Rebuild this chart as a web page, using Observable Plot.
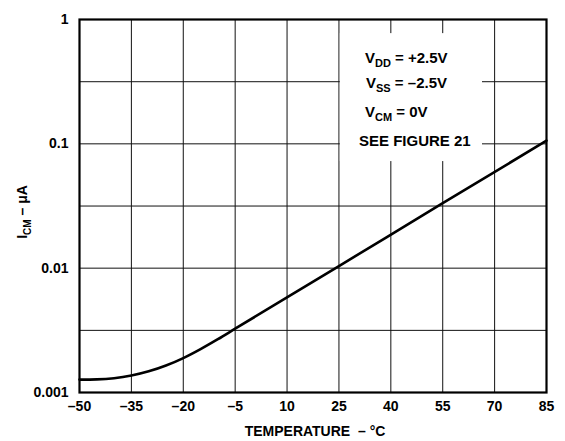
<!DOCTYPE html>
<html>
<head>
<meta charset="utf-8">
<script src="https://cdn.jsdelivr.net/npm/d3@7"></script>
<script src="https://cdn.jsdelivr.net/npm/@observablehq/plot@0.6"></script>
<style>
  html, body { margin: 0; padding: 0; background: #fff; }
  svg text { font-family: "Liberation Sans", Arial, Helvetica, sans-serif; font-weight: bold; }
</style>
</head>
<body>
<div id="chart"></div>
<script>
// Data
const temperature = [-50, -45, -40, -35, -30, -25, -20, -15, -10, -5, 25, 55, 85];
const icm = [0.00127, 0.001276, 0.001303, 0.001368, 0.001479, 0.001648, 0.001892, 0.002234, 0.002685, 0.00326, 0.0104, 0.0333, 0.106];

const xTicks = [-50, -35, -20, -5, 10, 25, 40, 55, 70, 85];
const yTicks = [0.001, 0.01, 0.1, 1];
const yTickLabels = ["0.001", "0.01", "0.1", "1"];
const yGrid = [0.001, 0.00316, 0.01, 0.0316, 0.1, 0.316, 1];

const conditions = [
  {main: "V", sub: "DD", rest: " = +2.5V"},
  {main: "V", sub: "SS", rest: " = \u20132.5V"},
  {main: "V", sub: "CM", rest: " = 0V"},
  {main: "SEE FIGURE 21", sub: "", rest: ""}
];

const data = temperature.map((t, i) => ({t, i: icm[i]}));

// annotation box extents in data units
const boxX = [25.4, 66.5];
const boxY = [0.072, 0.77];

const fmtX = d => d < 0 ? "\u2013" + Math.abs(d) : String(d);

const plot = Plot.plot({
  width: 565,
  height: 441,
  marginLeft: 79,
  marginRight: 19,
  marginTop: 19,
  marginBottom: 49,
  style: {fontSize: "14px", fontFamily: "Liberation Sans, Arial, sans-serif", fontWeight: "bold", color: "#000", background: "#fff"},
  x: {domain: [-50, 85], ticks: xTicks, tickFormat: fmtX, label: null},
  y: {type: "log", domain: [0.001, 1], ticks: yTicks, tickFormat: d => yTickLabels[yTicks.indexOf(d)], label: null},
  marks: [
    Plot.ruleY(yGrid, {stroke: "#111", strokeWidth: 1}),
    Plot.ruleX(xTicks, {stroke: "#111", strokeWidth: 1}),
    Plot.rect([0], {x1: boxX[0], x2: boxX[1], y1: boxY[0], y2: boxY[1], fill: "white"}),
    Plot.line(data, {x: "t", y: "i", curve: "monotone-x", stroke: "#000", strokeWidth: 2.6}),
    Plot.frame({stroke: "#000", strokeWidth: 2.2}),
    Plot.axisX({ticks: xTicks, tickFormat: fmtX, tickSize: 0, tickPadding: 9, fontSize: 14, label: null}),
    Plot.axisY({ticks: yTicks, tickFormat: d => yTickLabels[yTicks.indexOf(d)], tickSize: 0, tickPadding: 11, fontSize: 14, label: null})
  ]
});

document.getElementById("chart").appendChild(plot);

const svg = d3.select(plot);

// Condition labels (annotation)
const condX = [365, 366, 365, 359];
const condBase = [62.5, 88, 116.5, 146];
conditions.forEach((c, k) => {
  const t = svg.append("text")
    .attr("x", condX[k]).attr("y", condBase[k])
    .attr("text-anchor", "start")
    .attr("font-size", 15).attr("fill", "#000");
  t.append("tspan").text(c.main);
  if (c.sub) t.append("tspan").attr("font-size", 11).attr("dy", 4).text(c.sub);
  if (c.rest) t.append("tspan").attr("dy", c.sub ? -4 : 0).text(c.rest);
});

// X axis title
svg.append("text")
  .attr("x", 315).attr("y", 436)
  .attr("text-anchor", "middle").attr("font-size", 14).attr("fill", "#000")
  .attr("xml:space", "preserve")
  .text("TEMPERATURE  \u2013 \u00b0C");

// Y axis title
const yl = svg.append("text")
  .attr("transform", "translate(27,212) rotate(-90)")
  .attr("text-anchor", "middle").attr("font-size", 14).attr("fill", "#000");
yl.append("tspan").text("I");
yl.append("tspan").attr("font-size", 10).attr("dy", 4).text("CM");
yl.append("tspan").attr("dy", -4).text(" \u2013 \u03bcA");
</script>
</body>
</html>
